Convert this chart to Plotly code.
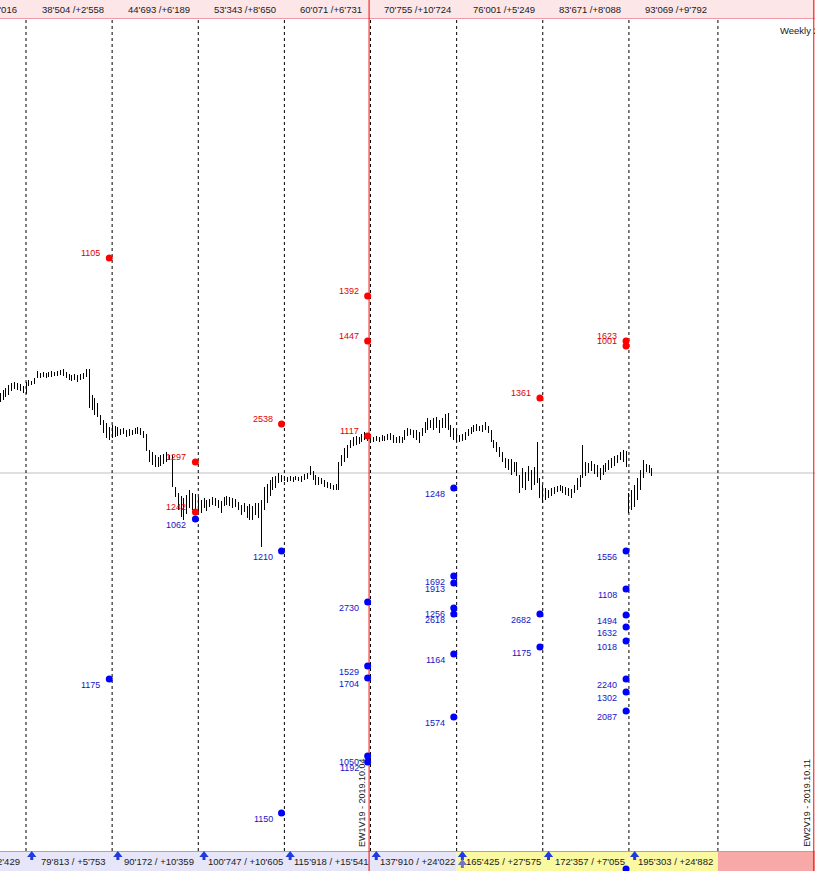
import plotly.graph_objects as go

# daily bars (index) and price levels
bar_high = [
    607, 610, 612, 615, 617, 618, 617, 616, 614, 618,
    620, 619, 622, 629, 627, 628, 627, 628, 629, 628,
    629, 630, 631, 628, 626, 625, 626, 625, 626, 627,
    631, 631, 605, 602, 597, 585, 580, 577, 573, 575,
    574, 573, 571, 572, 570, 571, 570, 572, 573, 572,
    569, 566, 550, 548, 545, 543, 545, 546, 548, 545,
    545, 513, 507, 504, 502, 505, 510, 507, 506, 503,
    500, 502, 500, 501, 503, 502, 500, 499, 503, 504,
    503, 502, 501, 498, 495, 497, 494, 496, 494, 497,
    497, 500, 513, 516, 520, 523, 524, 527, 525, 524,
    523, 524, 523, 524, 523, 524, 526, 527, 534, 529,
    525, 523, 522, 520, 518, 517, 515, 516, 538, 545,
    552, 555, 560, 563, 564, 563, 566, 568, 567, 564,
    563, 564, 563, 565, 564, 566, 567, 565, 563, 564,
    563, 570, 572, 571, 570, 570, 568, 572, 578, 582,
    580, 582, 583, 580, 582, 586, 587, 575, 572, 570,
    565, 566, 568, 571, 573, 575, 576, 574, 575, 578,
    574, 570, 560, 558, 553, 548, 542, 541, 541, 538,
    538, 525, 532, 528, 534, 530, 533, 558, 522, 515,
    512, 510, 512, 513, 514, 515, 514, 513, 512, 511,
    515, 522, 525, 555, 538, 537, 539, 536, 535, 532,
    535, 537, 540, 542, 544, 545, 548, 550, 549, 507,
    510, 515, 522, 530, 540, 536, 535, 532,
]
bar_low = [
    598, 600, 603, 605, 609, 611, 610, 609, 607, 606,
    614, 615, 616, 622, 622, 623, 622, 623, 623, 624,
    624, 625, 624, 622, 620, 619, 620, 618, 620, 621,
    623, 592, 590, 585, 583, 575, 567, 562, 560, 562,
    563, 564, 565, 566, 563, 564, 565, 566, 566, 565,
    562, 549, 538, 535, 533, 533, 534, 536, 538, 540,
    513, 503, 490, 483, 480, 486, 492, 490, 485, 488,
    487, 492, 489, 493, 495, 494, 492, 487, 494, 495,
    494, 492, 493, 490, 485, 488, 482, 480, 480, 485,
    482, 453, 490, 497, 504, 510, 512, 517, 518, 519,
    518, 519, 518, 520, 519, 518, 520, 521, 525, 520,
    515, 515, 516, 513, 512, 511, 510, 510, 510, 534,
    538, 542, 552, 554, 555, 556, 558, 560, 559, 558,
    558, 559, 558, 559, 559, 560, 560, 557, 557, 557,
    557, 560, 564, 565, 562, 560, 557, 564, 567, 570,
    572, 570, 572, 567, 572, 572, 570, 563, 560, 558,
    558, 559, 560, 564, 566, 568, 569, 569, 568, 570,
    567, 558, 552, 548, 543, 538, 532, 530, 525, 528,
    524, 507, 512, 510, 519, 510, 515, 517, 502, 497,
    500, 502, 504, 506, 508, 509, 507, 505, 504, 502,
    507, 510, 513, 522, 524, 527, 529, 526, 523, 520,
    525, 528, 530, 532, 534, 537, 540, 538, 533, 487,
    490, 493, 500, 510, 522, 528, 527, 524,
]

separator_bars = [9, 39, 69, 99, 129, 159, 189, 219, 250]
top_labels = ["38'504 /+2'558", "44'693 /+6'189", "53'343 /+8'650", "60'071 /+6'731",
              "70'755 /+10'724", "76'001 /+5'249", "83'671 /+8'088", "93'069 /+9'792"]
bottom_labels = ["79'813 / +5'753", "90'172 / +10'359", "100'747 / +10'605", "115'918 / +15'541",
                 "137'910 / +24'022", "165'425 / +27'575", "172'357 / +7'055", "195'303 / +24'882"]

red_bar = [38, 68, 68, 98, 128, 128, 128, 188, 218, 218]
red_level = [742, 538, 488, 576, 704, 659, 564, 602, 659, 654]
red_text = ["1105", "1297", "1242", "2538", "1392", "1447", "1117", "1361", "1623", "1001"]

blue_bar = [38, 68, 98, 98, 128, 128, 128, 128, 128, 158, 158, 158, 158, 158, 158, 158,
            188, 188, 218, 218, 218, 218, 218, 218, 218, 218, 218]
blue_level = [321, 481, 449, 187, 398, 334, 322, 244, 238, 512, 424, 417, 392, 386, 346, 283,
              386, 353, 449, 411, 385, 373, 359, 321, 308, 289, 131]
blue_text = ["1175", "1062", "1210", "1150", "2730", "1529", "1704", "1050", "1192", "1248", "1692",
             "1913", "1256", "2618", "1164", "1574", "2682", "1175", "1556", "1108", "1494", "1632",
             "1018", "2240", "1302", "2087", ""]

week_bars = [128.5, 283.4]
week_text = ["EW1V19 - 2019.10.04", "EW2V19 - 2019.10.11"]
close_level = 527

FONT = "Liberation Sans"
X_RANGE = [-0.06, 283.82]
Y_RANGE = [129, 1000]

fig = go.Figure()

# price bars as vertical high-low strokes
seg_x, seg_y = [], []
for i, (h, l) in enumerate(zip(bar_high, bar_low)):
    seg_x += [i, i, None]
    seg_y += [l, h, None]
fig.add_trace(go.Scatter(x=seg_x, y=seg_y, mode='lines',
                         line=dict(color='#000000', width=1), hoverinfo='skip'))

fig.add_trace(go.Scatter(x=red_bar, y=red_level, mode='markers',
                         marker=dict(size=7, color='#ff0000')))
fig.add_trace(go.Scatter(x=blue_bar, y=blue_level, mode='markers',
                         marker=dict(size=7, color='#0000ff')))

# arrows in the bottom strip: head + stem
arrow_x = [s + 2 for s in separator_bars[:8]]
fig.add_trace(go.Scatter(x=arrow_x, y=[141.5] * len(arrow_x), mode='markers',
                         marker=dict(symbol='square', size=3, color='#1f3be0', line=dict(width=0))))
fig.add_trace(go.Scatter(x=arrow_x, y=[145] * len(arrow_x), mode='markers',
                         marker=dict(symbol='triangle-up', size=8, color='#1f3be0', line=dict(width=0))))
fig.add_trace(go.Scatter(x=[separator_bars[5] + 2], y=[133.5], mode='markers',
                         marker=dict(symbol='square', size=3, color='#7272c4', line=dict(width=0))))
fig.add_trace(go.Scatter(x=[separator_bars[5] + 2], y=[137], mode='markers',
                         marker=dict(symbol='triangle-up', size=8, color='#7272c4', line=dict(width=0))))

fig.add_trace(go.Scatter(x=[271.6], y=[968], mode='text', text=["Weekly 2"],
                         textposition='middle right',
                         textfont=dict(family=FONT, size=9.5, color='#202020')))

shapes = []
# top strip
shapes.append(dict(type='rect', xref='x', yref='y', x0=-2, x1=290, y0=981.5, y1=1000,
                   fillcolor='#fde6e8', line=dict(width=0), layer='below'))
shapes.append(dict(type='line', xref='x', yref='y', x0=-2, x1=290, y0=981.5, y1=981.5,
                   line=dict(color='#ef9aa4', width=1), layer='below'))
# bottom strip
shapes.append(dict(type='rect', xref='x', yref='y', x0=-2, x1=separator_bars[5], y0=129, y1=149,
                   fillcolor='#e6e6f8', line=dict(width=0), layer='below'))
shapes.append(dict(type='rect', xref='x', yref='y', x0=separator_bars[5], x1=separator_bars[8],
                   y0=129, y1=149, fillcolor='#fbf8a2', line=dict(width=0), layer='below'))
shapes.append(dict(type='rect', xref='x', yref='y', x0=separator_bars[8], x1=290, y0=129, y1=149,
                   fillcolor='#f7a9a8', line=dict(width=0), layer='below'))
shapes.append(dict(type='line', xref='x', yref='y', x0=-2, x1=290, y0=148.5, y1=148.5,
                   line=dict(color='#a0a0e2', width=1), layer='below'))
# last close level
shapes.append(dict(type='line', xref='x', yref='y', x0=-2, x1=290, y0=close_level, y1=close_level,
                   line=dict(color='#c0c0c0', width=1), layer='below'))
# period separators
for s in separator_bars:
    shapes.append(dict(type='line', xref='x', yref='y', x0=s, x1=s, y0=149, y1=981,
                       line=dict(color='#000000', width=1, dash='3px,3px'), layer='below'))
for w in week_bars:
    shapes.append(dict(type='line', xref='x', yref='y', x0=w, x1=w, y0=129, y1=1000,
                       line=dict(color='#ff0000', width=1), layer='below'))

annotations = []
for s, t in zip(separator_bars, top_labels):
    annotations.append(dict(x=s + 15, y=990.5, text=t, showarrow=False, xanchor='center',
                            yanchor='middle', xshift=4,
                            font=dict(family=FONT, size=9.5, color='#1a1a1a')))
for s, t in zip(separator_bars, bottom_labels):
    annotations.append(dict(x=s + 15, y=139, text=t, showarrow=False, xanchor='center',
                            yanchor='middle', xshift=4,
                            font=dict(family=FONT, size=9.5, color='#1a1a1a')))
annotations.append(dict(x=separator_bars[0] - 3, y=990.5, text="5'016", showarrow=False,
                        xanchor='right', yanchor='middle', xshift=2,
                        font=dict(family=FONT, size=9.5, color='#1a1a1a')))
annotations.append(dict(x=separator_bars[0] - 2, y=139, text="2'429", showarrow=False,
                        xanchor='right', yanchor='middle', xshift=2,
                        font=dict(family=FONT, size=9.5, color='#1a1a1a')))

for b, v, t in zip(red_bar, red_level, red_text):
    annotations.append(dict(x=b, y=v, text=t, showarrow=False, xanchor='right', yanchor='middle',
                            xshift=-7, yshift=5.5,
                            font=dict(family=FONT, size=9, color='#e00000')))
for b, v, t in zip(blue_bar, blue_level, blue_text):
    if t:
        annotations.append(dict(x=b, y=v, text=t, showarrow=False, xanchor='right',
                                yanchor='middle', xshift=-7, yshift=-5.5,
                                font=dict(family=FONT, size=9, color='#1515c8')))

for w, t in zip(week_bars, week_text):
    annotations.append(dict(x=w, y=197, text=t, showarrow=False, textangle=-90,
                            xanchor='center', yanchor='middle', xshift=-7,
                            font=dict(family=FONT, size=9, color='#202020')))

fig.update_layout(
    width=819, height=871,
    margin=dict(l=0, r=0, t=0, b=0),
    paper_bgcolor='#ffffff', plot_bgcolor='#ffffff',
    showlegend=False, hovermode=False,
    shapes=shapes, annotations=annotations,
    xaxis=dict(range=X_RANGE, domain=[0, 815 / 819], visible=False, fixedrange=True),
    yaxis=dict(range=Y_RANGE, visible=False, fixedrange=True),
)

post = """
document.body.style.margin = '0';
document.querySelectorAll('.scatterlayer .js-line').forEach(function (p) {
    p.style.shapeRendering = 'crispEdges';
});
"""
fig.write_html("out.html", config={'displayModeBar': False}, post_script=post)
